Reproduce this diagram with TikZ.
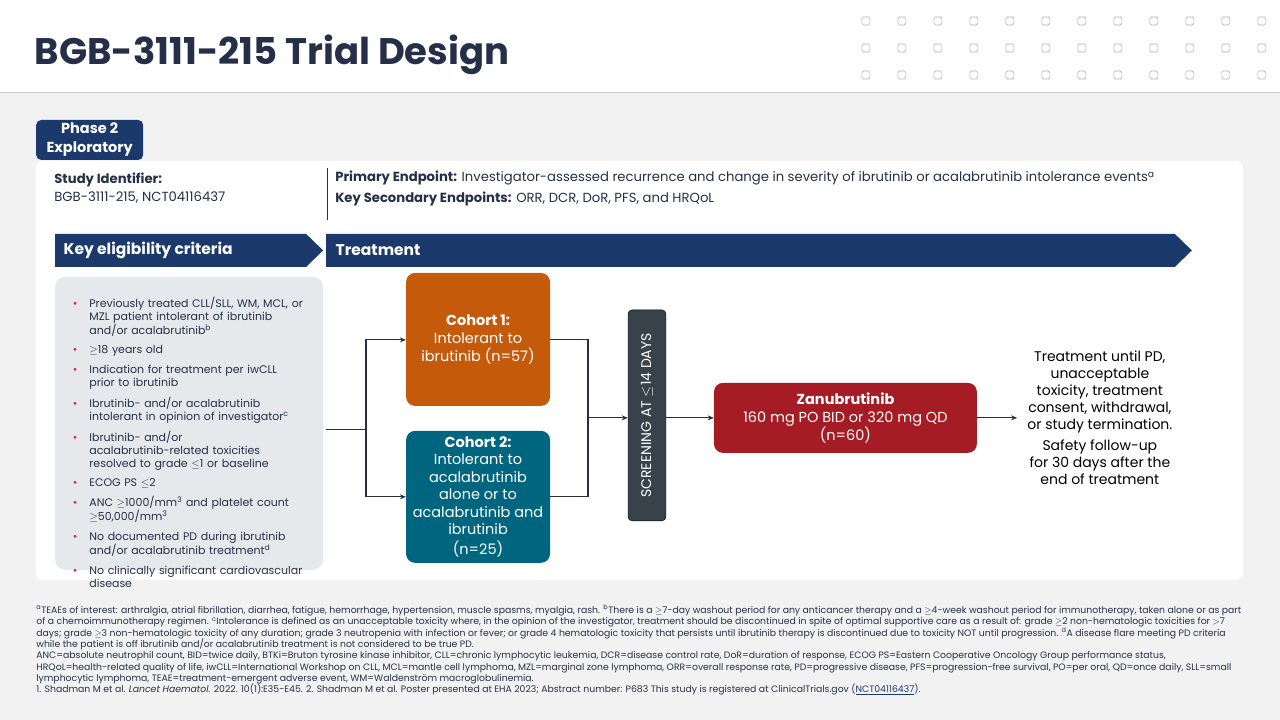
\documentclass[tikz,border=0pt]{standalone}
\usepackage{fontspec}
\setmainfont{Poppins}
\usetikzlibrary{arrows.meta, positioning}
\definecolor{navy}{HTML}{1B3A6B}
\definecolor{titlecol}{HTML}{253048}
\definecolor{cohortA}{HTML}{C55A0B}
\definecolor{cohortB}{HTML}{00667F}
\definecolor{screen}{HTML}{37424A}
\definecolor{zanu}{HTML}{A51C24}
\definecolor{listbg}{HTML}{E6E9EC}
\definecolor{pagebg}{HTML}{F2F2F2}
\definecolor{bulletred}{HTML}{E0202A}
\tikzset{%
	every box/.style={
		rounded corners=9pt,
		align=center,
		text=white,
		inner sep=4pt
	},
	banner/.style={
		fill=navy,
		draw=none
	},
	flow/.style={
		draw=titlecol,
		line width=1.2pt
	},
	dot/.style={
		draw=black!30,
		fill=white,
		rounded corners=1.5pt,
		minimum size=8pt,
		inner sep=0pt,
		line width=0.6pt
	},
}
\newcommand{\bul}{\item[\textcolor{bulletred}{\textbullet}]}
\begin{document}
\begin{tikzpicture}[x=1pt, y=-1pt, >={Stealth[length=6pt,width=5pt]}]
	
	% page and header
	\fill [pagebg] (0,0) rectangle (1280,720);
	\fill [white] (0,0) rectangle (1280,92);
	\draw [black!20] (0,92) -- (1280,92);
	\useasboundingbox (0,0) rectangle (1280,720);
	\node [anchor=west, font=\fontsize{37}{40}\selectfont\bfseries, text=titlecol] (title) at (31,55) {BGB-3111-215 Trial Design};
	\foreach \c in {0,...,11}
	\foreach \r in {0,...,2}
	\node [dot] (dot-\c-\r) at (866+\c*36.0,21+\r*27) {};
	
	% white panel and tab
	\fill [white, rounded corners=6pt] (36,161) rectangle (1243,580);
	\fill [navy, rounded corners=5pt] (36,160) -- (36,120) -- (143,120) -- (143,160) -- cycle;
	\node [align=center, text=white, font=\fontsize{14.5}{19}\selectfont\bfseries] (phase) at (89.5,140) {Phase 2\\Exploratory};
	
	% study identifier and endpoints
	\node [anchor=north west, align=left, inner sep=0pt, font=\fontsize{13.2}{18}\selectfont, text=titlecol] (ident) at (54,173) {\textbf{Study Identifier:}\\BGB-3111-215, NCT04116437};
	\draw [titlecol, line width=0.8pt] (327,168) -- (327,220);
	\node [anchor=north west, align=left, inner sep=0pt, font=\fontsize{13.2}{21}\selectfont, text=titlecol] (endpts) at (335,171) {\textbf{Primary Endpoint:} Investigator-assessed recurrence and change in severity of ibrutinib or acalabrutinib intolerance events\textsuperscript{a}\\\textbf{Key Secondary Endpoints:} ORR, DCR, DoR, PFS, and HRQoL};
	
	% banners
	\fill [banner] (55,234) -- (306,234) -- (323,250.5) -- (306,267) -- (55,267) -- cycle;
	\fill [banner] (326,234) -- (1175,234) -- (1192,250.5) -- (1175,267) -- (326,267) -- cycle;
	\node [anchor=west, text=white, font=\fontsize{15.5}{18}\selectfont\bfseries] (elig) at (60,250.5) {Key eligibility criteria};
	\node [anchor=west, text=white, font=\fontsize{15.5}{18}\selectfont\bfseries] (treat) at (332,250.5) {Treatment};
	
	% eligibility list
	\fill [listbg, rounded corners=10pt] (55,277) rectangle (323,570);
	\node [anchor=north west, inner sep=0pt, text width=240pt, font=\fontsize{11}{13}\selectfont, text=titlecol] (crit) at (64,286) {%
		\begin{itemize}\setlength{\itemsep}{2.6pt}\setlength{\parsep}{0pt}\setlength{\topsep}{0pt}\setlength{\leftmargin}{22pt}\setlength{\labelsep}{12pt}
			\bul Previously treated CLL/SLL, WM, MCL, or MZL patient intolerant of ibrutinib and/or acalabrutinib\textsuperscript{b}
			\bul $\geq$18 years old
			\bul Indication for treatment per iwCLL prior to ibrutinib
			\bul Ibrutinib- and/or acalabrutinib intolerant in opinion of investigator\textsuperscript{c}
			\bul Ibrutinib- and/or acalabrutinib-related toxicities resolved to grade $\leq$1 or baseline
			\bul ECOG PS $\leq$2
			\bul ANC $\geq$1000/mm\textsuperscript{3} and platelet count $\geq$50,000/mm\textsuperscript{3}
			\bul No documented PD during ibrutinib and/or acalabrutinib treatment\textsuperscript{d}
			\bul No clinically significant cardiovascular disease
		\end{itemize}};
	
	% treatment flow
	\node [every box/.try, fill=cohortA, minimum width=144pt, minimum height=133pt, font=\fontsize{14.5}{18}\selectfont] (cohort-1) at (478,339.5) {\textbf{Cohort 1:}\\Intolerant to\\ibrutinib (n=57)};
	\node [every box/.try, fill=cohortB, minimum width=144pt, minimum height=132pt, font=\fontsize{14.5}{17.5}\selectfont] (cohort-2) at (478,497) {\textbf{Cohort 2:}\\Intolerant to\\acalabrutinib\\alone or to\\acalabrutinib and\\ibrutinib\\[2pt](n=25)};
	\node [every box/.try, fill=screen, draw=black, rounded corners=4pt, minimum width=38pt, minimum height=211pt] (screening) at (647,415.5) {};
	\node [rotate=90, text=white, font=\fontsize{14}{16}\selectfont] (screen-txt) at (screening.center) {SCREENING AT $\leq$14 DAYS};
	\node [every box/.try, fill=zanu, minimum width=263pt, minimum height=70pt, font=\fontsize{14.5}{18}\selectfont] (zanubrutinib) at (845.5,418) {\textbf{Zanubrutinib}\\160 mg PO BID or 320 mg QD\\(n=60)};
	\node [align=center, text=black, font=\fontsize{14}{16.8}\selectfont] (outcome) at (1100,418) {Treatment until PD,\\unacceptable\\toxicity, treatment\\consent, withdrawal,\\or study termination.\\[5pt]Safety follow-up\\for 30 days after the\\end of treatment};
	
	\coordinate (split) at (366,430);
	\coordinate (join) at (588,418);
	\draw [flow] (326,430) -- (split);
	\draw [flow, ->] (split) |- (cohort-1.west |- 0,340);
	\draw [flow, ->] (split) |- (cohort-2.west |- 0,497);
	\draw [flow] (cohort-1.east |- 0,340) -| (join);
	\draw [flow] (cohort-2.east |- 0,497) -| (join);
	\draw [flow, ->] (join) -- (screening.west |- join);
	\draw [flow, ->] (screening.east |- join) -- (zanubrutinib.west);
	\draw [flow, ->] (zanubrutinib.east) -- ++(40,0);
	
	% footnotes
	\node [anchor=north west, align=left, inner sep=0pt, font=\fontsize{9.3}{11.3}\selectfont, text=titlecol] (notes) at (36,605) {%
		\textsuperscript{a}TEAEs of interest: arthralgia, atrial fibrillation, diarrhea, fatigue, hemorrhage, hypertension, muscle spasms, myalgia, rash. \textsuperscript{b}There is a $\geq$7-day washout period for any anticancer therapy and a $\geq$4-week washout period for immunotherapy, taken alone or as part\\
		of a chemoimmunotherapy regimen. \textsuperscript{c}Intolerance is defined as an unacceptable toxicity where, in the opinion of the investigator, treatment should be discontinued in spite of optimal supportive care as a result of: grade $\geq$2 non-hematologic toxicities for $>$7\\
		days; grade $\geq$3 non-hematologic toxicity of any duration; grade 3 neutropenia with infection or fever; or grade 4 hematologic toxicity that persists until ibrutinib therapy is discontinued due to toxicity NOT until progression. \textsuperscript{d}A disease flare meeting PD criteria\\
		while the patient is off ibrutinib and/or acalabrutinib treatment is not considered to be true PD.\\
		ANC=absolute neutrophil count, BID=twice daily, BTKi=Bruton tyrosine kinase inhibitor, CLL=chronic lymphocytic leukemia, DCR=disease control rate, DoR=duration of response, ECOG PS=Eastern Cooperative Oncology Group performance status,\\
		HRQoL=health-related quality of life, iwCLL=International Workshop on CLL, MCL=mantle cell lymphoma, MZL=marginal zone lymphoma, ORR=overall response rate, PD=progressive disease, PFS=progression-free survival, PO=per oral, QD=once daily, SLL=small\\
		lymphocytic lymphoma, TEAE=treatment-emergent adverse event, WM=Waldenström macroglobulinemia.\\
		1. Shadman M et al. \textit{Lancet Haematol.} 2022. 10(1):E35-E45. 2. Shadman M et al. Poster presented at EHA 2023; Abstract number: P683 This study is registered at ClinicalTrials.gov \textcolor{navy}{(\underline{NCT04116437})}.};
	
\end{tikzpicture}
\end{document}
